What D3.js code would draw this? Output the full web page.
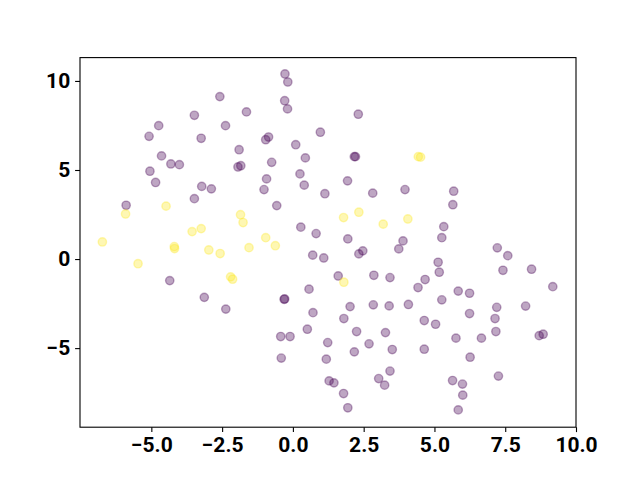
<!DOCTYPE html>
<html>
<head>
  <meta charset="utf-8">
  <script src="https://d3js.org/d3.v7.min.js"></script>
  <style>
    body { margin: 0; background: #fff; }
    .axis text { font-family: Roboto, sans-serif; font-weight: 700; font-size: 21px; fill: #000; }
  </style>
</head>
<body>
  <svg id="chart"></svg>
  <script>
    // cluster 0 (purple)
    var purpleX = [-2.58, -1.64, -3.48, -4.74, -2.38, -5.08, -3.24, -1.90, -4.64, -4.31,
      -4.01, -1.94, -1.84, -5.05, -4.85, -3.22, -2.88, -3.48, -5.89, -4.35,
      -3.13, -2.37, -0.28, -0.18, -0.29, -0.19, 2.31, 0.97, -0.86, -0.96,
      0.10, 2.17, 2.21, 0.44, -0.75, 0.25, -0.93, 1.93, 0.40, -1.02,
      3.96, 1.13, 2.82, -0.57, 0.28, 0.82, 1.94, 3.89, 3.74, 2.33,
      2.47, 0.70, 1.09, 1.60, 2.86, 3.43, 0.57, -0.31, -0.29, 0.71,
      2.02, 2.84, 3.40, 4.08, 1.80, 0.51, -0.43, -0.10, 2.25, 3.27,
      1.23, 2.69, 3.51, 2.17, -0.41, 1.18, 3.43, 3.03, 3.24, 1.28,
      1.45, 1.79, 1.94, 5.68, 5.65, 5.33, 5.26, 7.22, 7.59, 5.13,
      5.17, 7.42, 8.43, 4.67, 4.42, 9.18, 5.84, 6.24, 5.26, 7.20,
      8.22, 6.24, 4.64, 5.04, 7.14, 7.17, 5.76, 6.66, 8.70, 8.84,
      4.64, 6.26, 7.26, 5.64, 5.99, 6.00, 5.84];
    var purpleY = [9.12, 8.26, 8.07, 7.49, 7.49, 6.89, 6.78, 6.14, 5.79, 5.34,
      5.30, 5.17, 5.24, 4.93, 4.30, 4.08, 3.94, 3.39, 3.02, -1.21,
      -2.15, -2.81, 10.39, 9.94, 8.89, 8.43, 8.13, 7.12, 6.85, 6.70,
      6.42, 5.75, 5.75, 5.68, 5.43, 4.78, 4.50, 4.39, 4.15, 3.90,
      3.90, 3.67, 3.70, 3.00, 1.79, 1.43, 1.13, 1.02, 0.57, 0.29,
      0.46, 0.22, 0.06, -0.95, -0.91, -1.04, -1.69, -2.26, -2.24, -3.01,
      -2.67, -2.57, -2.63, -2.55, -3.34, -3.94, -4.35, -4.35, -4.07, -4.13,
      -4.69, -4.76, -5.08, -5.21, -5.56, -5.62, -6.29, -6.71, -7.08, -6.84,
      -6.95, -7.55, -8.35, 3.81, 3.05, 1.82, 1.20, 0.63, 0.19, -0.18,
      -0.74, -0.63, -0.57, -1.15, -1.60, -1.55, -1.80, -1.92, -2.29, -2.71,
      -2.64, -3.06, -3.45, -3.66, -3.34, -4.07, -4.44, -4.44, -4.30, -4.22,
      -5.06, -5.51, -6.57, -6.82, -7.02, -7.64, -8.47];

    // cluster 1 (yellow)
    var yellowX = [-5.91, -4.48, -1.85, -1.76, -3.24, -3.56, -6.73, -4.19, -4.18, -2.97,
      -2.57, -1.55, -5.47, -2.20, -2.13, 1.79, 2.33, 3.19, 4.06, -0.96,
      -0.62, 1.80, 4.43, 4.51];
    var yellowY = [2.53, 2.97, 2.49, 2.05, 1.71, 1.54, 0.96, 0.70, 0.59, 0.51,
      0.31, 0.64, -0.26, -1.00, -1.13, 2.33, 2.63, 1.96, 2.25, 1.20,
      0.75, -1.30, 5.75, 5.72];

    var xTicks = [-5, -2.5, 0, 2.5, 5, 7.5, 10];
    var yTicks = [-5, 0, 5, 10];

    var width = 640, height = 480;
    var margin = { left: 80, right: 64, top: 57.6, bottom: 52.8 };

    var svg = d3.select('#chart')
      .attr('width', width)
      .attr('height', height);

    var x = d3.scaleLinear()
      .domain([-7.52, 10.0])
      .range([margin.left, width - margin.right]);
    var y = d3.scaleLinear()
      .domain([-9.44, 11.31])
      .range([height - margin.bottom, margin.top]);

    var points = [];
    purpleX.forEach(function (d, i) { points.push({ x: d, y: purpleY[i], c: '#440154' }); });
    yellowX.forEach(function (d, i) { points.push({ x: d, y: yellowY[i], c: '#fde725' }); });

    svg.append('g')
      .selectAll('circle')
      .data(points)
      .enter()
      .append('circle')
      .attr('cx', function (d) { return x(d.x); })
      .attr('cy', function (d) { return y(d.y); })
      .attr('r', 4.17)
      .attr('fill', function (d) { return d.c; })
      .attr('fill-opacity', 0.35)
      .attr('stroke', function (d) { return d.c; })
      .attr('stroke-opacity', 0.35)
      .attr('stroke-width', 1.4);

    svg.append('g')
      .attr('class', 'axis')
      .attr('transform', 'translate(0,' + (height - margin.bottom) + ')')
      .call(d3.axisBottom(x).tickValues(xTicks).tickFormat(d3.format('.1f'))
        .tickSize(4.9).tickPadding(4.9));
    svg.append('g')
      .attr('class', 'axis')
      .attr('transform', 'translate(' + margin.left + ',0)')
      .call(d3.axisLeft(y).tickValues(yTicks).tickFormat(d3.format('d'))
        .tickSize(4.9).tickPadding(4.9));

    svg.selectAll('.axis .domain').remove();
    svg.selectAll('.axis line').attr('stroke', '#000').attr('stroke-width', 1.1);

    // frame (spines)
    svg.append('rect')
      .attr('x', margin.left)
      .attr('y', margin.top)
      .attr('width', width - margin.left - margin.right)
      .attr('height', height - margin.top - margin.bottom)
      .attr('fill', 'none')
      .attr('stroke', '#000')
      .attr('stroke-width', 1.1);
  </script>
</body>
</html>
